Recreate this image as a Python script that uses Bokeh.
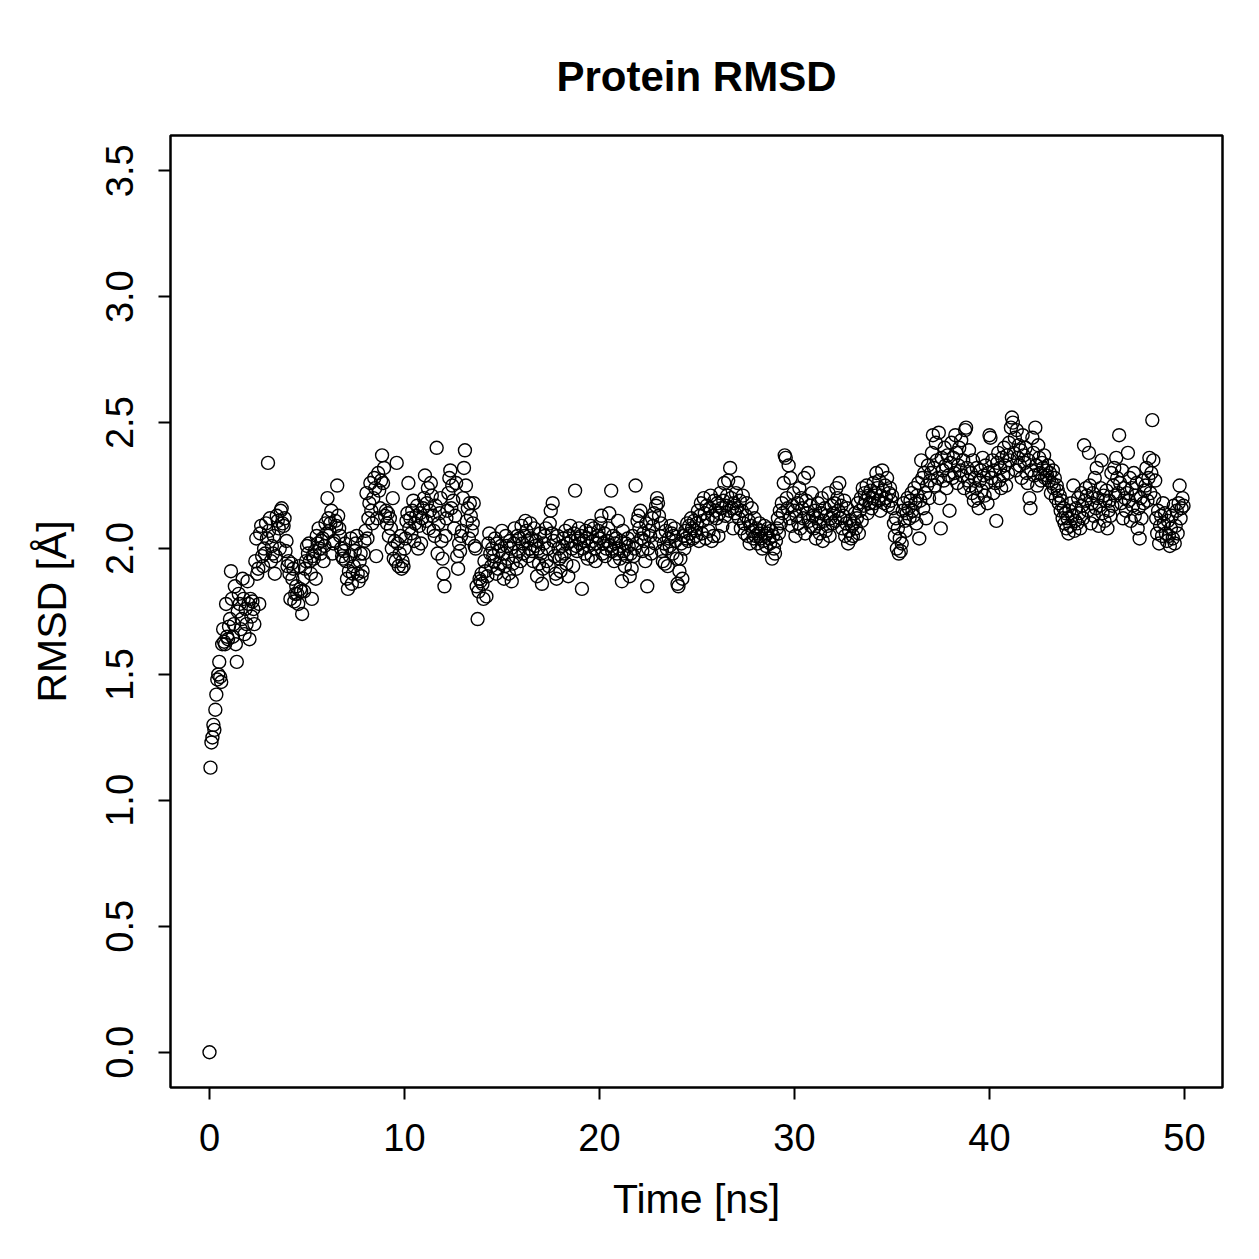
import numpy as np
from bokeh.plotting import figure
from bokeh.models import Range1d, FixedTicker, NumeralTickFormatter
from bokeh.embed import file_html
from bokeh.resources import INLINE

# RMSD values (Å), one list per 5 ns, sampled every 0.05 ns
rmsd_00_05 = [
    0.00, 1.13, 1.23, 1.25, 1.30, 1.28, 1.36, 1.42, 1.48, 1.50, 1.55, 1.49, 1.47, 1.62, 1.68, 1.63, 1.62, 1.78, 1.65, 1.64,
    1.69, 1.72, 1.91, 1.80, 1.65, 1.70, 1.85, 1.62, 1.55, 1.75, 1.82, 1.78, 1.68, 1.72, 1.88, 1.80, 1.66, 1.76, 1.70, 1.87,
    1.78, 1.64, 1.80, 1.73, 1.79, 1.76, 1.70, 1.95, 2.04, 1.90, 1.92, 1.78, 2.06, 2.09, 1.97, 1.93, 2.00, 1.98, 2.10, 2.04,
    2.34, 2.07, 2.12, 1.95, 2.01, 1.98, 2.05, 1.90, 1.97, 2.13, 2.11, 2.08, 2.00, 2.15, 2.16, 2.10, 2.09, 2.12, 1.99, 2.03,
    1.93, 1.95, 1.90, 1.80, 1.94, 1.88, 1.92, 1.79, 1.82, 1.85, 1.82, 1.78, 1.93, 1.84, 1.83, 1.74, 1.88, 1.83, 1.92, 1.95,
]
rmsd_05_10 = [
    2.01, 1.98, 2.02, 1.95, 1.90, 1.80, 1.97, 1.96, 1.99, 1.88, 2.05, 2.02, 2.08, 2.00, 1.98, 2.03, 2.04, 1.95, 2.01, 2.10,
    2.06, 2.20, 2.12, 2.07, 2.10, 2.15, 1.98, 2.02, 2.03, 2.11, 2.09, 2.25, 2.13, 2.08, 2.05, 2.00, 1.97, 1.96, 1.99, 2.02,
    1.95, 1.88, 1.84, 1.91, 1.97, 2.04, 1.86, 1.90, 1.93, 1.99, 2.02, 2.05, 1.90, 1.87, 1.95, 1.98, 1.89, 1.91, 1.98, 2.03,
    2.07, 2.22, 2.04, 2.12, 2.18, 2.26, 2.15, 2.10, 2.20, 2.28, 2.24, 1.97, 2.12, 2.30, 2.23, 2.16, 2.27, 2.37, 2.26, 2.32,
    2.13, 2.15, 2.10, 2.14, 2.05, 2.12, 2.08, 2.00, 2.20, 1.96, 2.03, 1.95, 2.34, 2.02, 1.93, 1.98, 2.05, 1.92, 1.95, 1.93,
]
rmsd_10_15 = [
    2.00, 2.04, 2.11, 2.14, 2.26, 2.08, 2.12, 2.06, 2.15, 2.19, 2.03, 2.10, 2.13, 2.17, 2.00, 2.09, 2.14, 2.02, 2.12, 2.16,
    2.20, 2.29, 2.11, 2.18, 2.24, 2.08, 2.15, 2.26, 2.21, 2.13, 2.07, 2.05, 2.17, 2.40, 1.98, 2.10, 2.14, 2.20, 2.03, 1.96,
    1.90, 1.85, 2.05, 2.12, 2.15, 2.22, 2.28, 2.31, 2.16, 2.25, 2.19, 2.08, 2.13, 2.26, 1.97, 1.92, 2.02, 1.99, 2.05, 2.07,
    2.20, 2.32, 2.39, 2.25, 2.11, 2.16, 2.04, 2.18, 2.13, 2.07, 2.10, 2.18, 2.01, 2.00, 1.85, 1.72, 1.83, 1.88, 1.87, 1.90,
    1.86, 1.80, 1.95, 1.91, 1.81, 1.89, 2.02, 2.06, 1.98, 1.93, 2.00, 1.97, 1.95, 2.04, 1.90, 2.02, 1.92, 1.99, 1.94, 2.01,
]
rmsd_15_20 = [
    2.07, 1.98, 1.88, 1.93, 2.05, 2.01, 1.96, 1.90, 2.03, 2.00, 1.87, 1.94, 2.02, 2.08, 1.97, 1.92, 2.05, 1.99, 2.04, 1.95,
    2.09, 2.02, 1.98, 2.05, 2.11, 2.07, 2.03, 1.97, 2.00, 2.10, 2.04, 1.99, 1.95, 2.08, 2.01, 2.03, 1.89, 2.00, 1.94, 2.06,
    1.98, 1.86, 1.92, 2.02, 2.05, 2.08, 1.95, 2.00, 1.93, 2.10, 2.15, 2.06, 2.18, 2.03, 1.97, 1.90, 1.88, 2.05, 2.00, 1.96,
    1.91, 1.97, 2.01, 2.04, 1.98, 2.07, 1.94, 2.02, 1.89, 2.05, 2.09, 2.03, 2.00, 1.93, 2.06, 2.23, 2.01, 1.99, 2.04, 2.08,
    2.02, 2.05, 1.84, 2.00, 2.03, 1.98, 2.07, 2.04, 1.96, 2.01, 2.06, 2.09, 1.97, 2.03, 2.08, 2.00, 1.95, 2.02, 2.05, 2.07,
]
rmsd_20_25 = [
    2.04, 2.10, 2.13, 1.98, 2.02, 2.06, 1.97, 2.00, 2.03, 2.08, 2.14, 2.01, 2.23, 1.99, 2.05, 1.95, 2.02, 2.04, 1.98, 2.11,
    2.00, 1.96, 2.03, 1.87, 2.07, 1.99, 1.93, 2.02, 1.97, 2.04, 2.01, 1.89, 1.98, 1.92, 2.05, 1.97, 2.00, 2.25, 2.02, 2.11,
    2.13, 2.08, 2.15, 2.04, 1.99, 2.06, 2.03, 1.95, 2.10, 1.85, 2.00, 2.07, 2.05, 1.98, 2.12, 2.09, 2.14, 2.02, 2.17, 2.20,
    2.18, 2.13, 2.05, 2.10, 1.99, 1.95, 2.02, 1.94, 2.07, 2.00, 1.93, 2.04, 2.01, 2.09, 2.06, 1.98, 2.05, 2.08, 2.03, 1.96,
    1.86, 1.85, 1.91, 1.96, 2.02, 1.88, 2.05, 2.00, 2.07, 2.04, 2.10, 2.03, 2.09, 2.06, 2.12, 2.08, 2.04, 2.11, 2.07, 2.05,
]
rmsd_25_30 = [
    2.10, 2.15, 2.03, 2.13, 2.18, 2.06, 2.11, 2.20, 2.14, 2.04, 2.17, 2.12, 2.07, 2.16, 2.21, 2.03, 2.13, 2.05, 2.19, 2.15,
    2.12, 2.18, 2.05, 2.14, 2.22, 2.16, 2.09, 2.19, 2.26, 2.13, 2.17, 2.21, 2.27, 2.15, 2.32, 2.20, 2.16, 2.08, 2.18, 2.14,
    2.22, 2.16, 2.26, 2.12, 2.19, 2.08, 2.15, 2.21, 2.10, 2.06, 2.13, 2.18, 2.05, 2.11, 2.02, 2.09, 2.16, 2.07, 2.04, 2.12,
    2.05, 2.08, 2.02, 2.06, 2.10, 2.04, 2.07, 2.00, 2.03, 2.09, 2.05, 2.01, 2.06, 2.08, 2.04, 2.02, 2.07, 1.96, 2.05, 2.00,
    1.98, 2.03, 2.08, 2.12, 2.06, 2.15, 2.10, 2.18, 2.14, 2.26, 2.37, 2.36, 2.20, 2.16, 2.33, 2.12, 2.28, 2.09, 2.17, 2.22,
]
rmsd_30_35 = [
    2.15, 2.05, 2.13, 2.18, 2.10, 2.24, 2.08, 2.20, 2.16, 2.12, 2.28, 2.06, 2.19, 2.14, 2.30, 2.11, 2.17, 2.09, 2.22, 2.13,
    2.08, 2.15, 2.04, 2.12, 2.18, 2.10, 2.06, 2.14, 2.20, 2.03, 2.11, 2.16, 2.07, 2.13, 2.09, 2.22, 2.05, 2.12, 2.17, 2.10,
    2.14, 2.18, 2.11, 2.24, 2.20, 2.15, 2.26, 2.12, 2.17, 2.08, 2.13, 2.19, 2.05, 2.10, 2.16, 2.02, 2.07, 2.11, 2.04, 2.09,
    2.05, 2.10, 2.14, 2.08, 2.12, 2.18, 2.06, 2.15, 2.20, 2.11, 2.24, 2.17, 2.22, 2.19, 2.25, 2.14, 2.21, 2.18, 2.23, 2.16,
    2.20, 2.26, 2.18, 2.22, 2.30, 2.24, 2.19, 2.27, 2.15, 2.21, 2.31, 2.23, 2.18, 2.25, 2.20, 2.28, 2.17, 2.22, 2.24, 2.19,
]
rmsd_35_40 = [
    2.21, 2.16, 2.10, 2.05, 2.12, 2.00, 2.08, 1.98, 2.04, 1.99, 2.02, 2.15, 2.18, 2.11, 2.07, 2.14, 2.20, 2.16, 2.12, 2.19,
    2.22, 2.15, 2.13, 2.24, 2.18, 2.10, 2.21, 2.26, 2.04, 2.19, 2.35, 2.28, 2.16, 2.30, 2.22, 2.12, 2.25, 2.33, 2.20, 2.27,
    2.30, 2.38, 2.45, 2.32, 2.25, 2.42, 2.35, 2.28, 2.46, 2.20, 2.08, 2.36, 2.31, 2.27, 2.40, 2.33, 2.24, 2.37, 2.29, 2.15,
    2.34, 2.42, 2.28, 2.36, 2.30, 2.45, 2.38, 2.26, 2.33, 2.40, 2.31, 2.43, 2.29, 2.35, 2.24, 2.47, 2.48, 2.32, 2.27, 2.39,
    2.25, 2.30, 2.22, 2.35, 2.19, 2.28, 2.24, 2.32, 2.20, 2.16, 2.27, 2.31, 2.23, 2.36, 2.29, 2.21, 2.33, 2.26, 2.18, 2.30,
]
rmsd_40_45 = [
    2.45, 2.44, 2.28, 2.35, 2.22, 2.31, 2.26, 2.11, 2.34, 2.38, 2.27, 2.32, 2.24, 2.36, 2.29, 2.40, 2.33, 2.25, 2.37, 2.30,
    2.42, 2.35, 2.48, 2.52, 2.50, 2.38, 2.44, 2.31, 2.47, 2.36, 2.41, 2.33, 2.39, 2.28, 2.45, 2.37, 2.34, 2.40, 2.30, 2.26,
    2.35, 2.20, 2.16, 2.31, 2.44, 2.38, 2.29, 2.48, 2.33, 2.25, 2.41, 2.36, 2.30, 2.27, 2.34, 2.32, 2.37, 2.28, 2.31, 2.29,
    2.33, 2.27, 2.30, 2.22, 2.26, 2.31, 2.24, 2.28, 2.20, 2.25, 2.23, 2.18, 2.21, 2.15, 2.19, 2.12, 2.16, 2.10, 2.14, 2.08,
    2.12, 2.06, 2.15, 2.09, 2.18, 2.13, 2.25, 2.07, 2.11, 2.16, 2.10, 2.20, 2.14, 2.08, 2.22, 2.17, 2.12, 2.41, 2.19, 2.24,
]
rmsd_45_50 = [
    2.21, 2.15, 2.38, 2.25, 2.10, 2.18, 2.22, 2.13, 2.28, 2.16, 2.32, 2.20, 2.09, 2.17, 2.24, 2.35, 2.14, 2.21, 2.11, 2.19,
    2.23, 2.08, 2.15, 2.19, 2.13, 2.30, 2.17, 2.25, 2.32, 2.21, 2.36, 2.28, 2.22, 2.45, 2.26, 2.18, 2.31, 2.12, 2.24, 2.20,
    2.15, 2.22, 2.38, 2.19, 2.28, 2.11, 2.24, 2.17, 2.30, 2.13, 2.21, 2.26, 2.08, 2.16, 2.04, 2.20, 2.12, 2.27, 2.18, 2.23,
    2.25, 2.32, 2.19, 2.28, 2.36, 2.22, 2.30, 2.51, 2.35, 2.20, 2.27, 2.12, 2.06, 2.15, 2.02, 2.09, 2.13, 2.05, 2.18, 2.10,
    2.14, 2.06, 2.03, 2.11, 2.05, 2.01, 2.08, 2.13, 2.04, 2.17, 2.02, 2.09, 2.15, 2.06, 2.18, 2.25, 2.12, 2.16, 2.20, 2.17,
]

rmsd = (rmsd_00_05 + rmsd_05_10 + rmsd_10_15 + rmsd_15_20 + rmsd_20_25 +
        rmsd_25_30 + rmsd_30_35 + rmsd_35_40 + rmsd_40_45 + rmsd_45_50)
time_step_ns = 0.05
time_ns = [i * time_step_ns for i in range(len(rmsd))]

x_ticks = [0, 10, 20, 30, 40, 50]
y_ticks = [0.0, 0.5, 1.0, 1.5, 2.0, 2.5, 3.0, 3.5]

FONT = "Liberation Sans"

p = figure(
    width=1259, height=1259,
    frame_width=1052, frame_height=952,
    min_border_left=170, min_border_right=37, min_border_top=135, min_border_bottom=172,
    x_range=Range1d(-2.0, 51.95), y_range=Range1d(-0.14, 3.64),
    output_backend="svg", toolbar_location=None,
    title="Protein RMSD",
)
p.background_fill_color = "white"
p.border_fill_color = "white"
p.outline_line_color = "black"
p.outline_line_width = 2.5
p.outline_line_alpha = 1.0
p.xgrid.visible = False
p.ygrid.visible = False

p.title.align = "center"
p.title.text_font = FONT
p.title.text_font_size = "42px"
p.title.text_font_style = "bold"
p.title.text_color = "black"
p.title.standoff = 72

p.scatter(time_ns, rmsd, marker="circle", size=13, fill_color=None,
          line_color="black", line_width=1.4)

for ax in (p.xaxis[0], p.yaxis[0]):
    ax.axis_line_color = None
    ax.major_tick_line_color = "black"
    ax.major_tick_line_width = 2
    ax.major_tick_out = 12
    ax.major_tick_in = 0
    ax.minor_tick_line_color = None
    ax.major_label_text_font = FONT
    ax.major_label_text_font_size = "38px"
    ax.major_label_text_color = "black"
    ax.axis_label_text_font = FONT
    ax.axis_label_text_font_size = "41px"
    ax.axis_label_text_font_style = "normal"
    ax.axis_label_text_color = "black"

p.xaxis.ticker = FixedTicker(ticks=x_ticks)
p.yaxis.ticker = FixedTicker(ticks=y_ticks)
p.yaxis.formatter = NumeralTickFormatter(format="0.0")
p.yaxis.major_label_orientation = "vertical"
p.xaxis.axis_label = "Time [ns]"
p.yaxis.axis_label = "RMSD [Å]"
p.xaxis.major_label_standoff = 24
p.yaxis.major_label_standoff = 25
p.xaxis.axis_label_standoff = 22
p.yaxis.axis_label_standoff = 29

open("out.html", "w").write(file_html(p, INLINE))
